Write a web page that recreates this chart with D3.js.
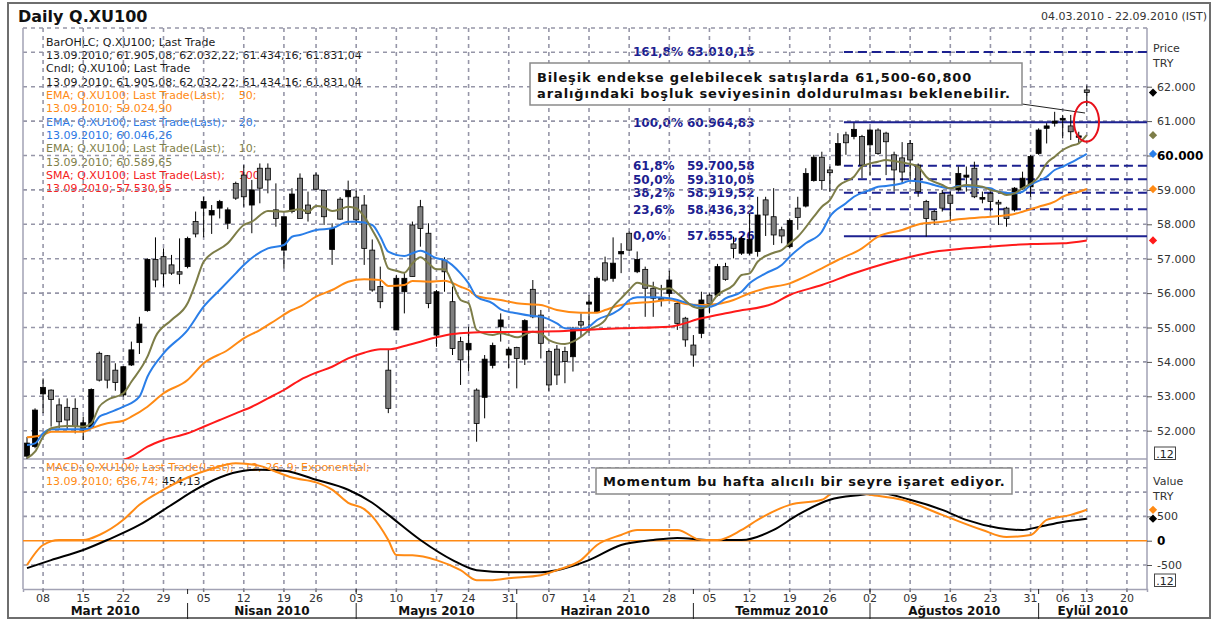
<!DOCTYPE html>
<html>
<head>
<meta charset="utf-8">
<script src="https://cdn.jsdelivr.net/npm/d3@7"></script>
<style>
  body { margin: 0; background: #fff; }
  text { font-family: "DejaVu Sans", Verdana, sans-serif; white-space: pre; }
</style>
</head>
<body>
<svg id="chart" width="1213" height="621"></svg>
<script>
// trading sessions, month -> days (holidays Apr 23, May 19, Aug 30, Sep 9-10 are skipped)
const sessionDays = {
  '2010-03': [4,5,8,9,10,11,12,15,16,17,18,19,22,23,24,25,26,29,30,31],
  '2010-04': [1,2,5,6,7,8,9,12,13,14,15,16,19,20,21,22,26,27,28,29,30],
  '2010-05': [3,4,5,6,7,10,11,12,13,14,17,18,20,21,24,25,26,27,28,31],
  '2010-06': [1,2,3,4,7,8,9,10,11,14,15,16,17,18,21,22,23,24,25,28,29,30],
  '2010-07': [1,2,5,6,7,8,9,12,13,14,15,16,19,20,21,22,23,26,27,28,29,30],
  '2010-08': [2,3,4,5,6,9,10,11,12,13,16,17,18,19,20,23,24,25,26,27,31],
  '2010-09': [1,2,3,6,7,8,13,14,15,16,17,20,21,22]
}

const weekTicks = ['2010-03-08','2010-03-15','2010-03-22','2010-03-29','2010-04-05','2010-04-12','2010-04-19','2010-04-26',
  '2010-05-03','2010-05-10','2010-05-17','2010-05-24','2010-05-31','2010-06-07','2010-06-14','2010-06-21','2010-06-28',
  '2010-07-05','2010-07-12','2010-07-19','2010-07-26','2010-08-02','2010-08-09','2010-08-16','2010-08-23','2010-08-31',
  '2010-09-06','2010-09-13','2010-09-20']

const months = [
  { name: 'Mart 2010', first: '2010-03-04' },
  { name: 'Nisan 2010', first: '2010-04-01' },
  { name: 'Mayıs 2010', first: '2010-05-03' },
  { name: 'Haziran 2010', first: '2010-06-01' },
  { name: 'Temmuz 2010', first: '2010-07-01' },
  { name: 'Ağustos 2010', first: '2010-08-02' },
  { name: 'Eylül 2010', first: '2010-09-01' }
]

// daily [open, high, low, close], one per session from 04.03.2010
const candles = [
  [51260,51820,51180,51640],[51540,52650,51490,52600],[53070,53520,52510,53260],[53180,53200,52120,52910],
  [52750,52940,52070,52260],[52680,52940,52020,52310],[52650,52940,51920,52120],[52020,52410,51730,52230],
  [52100,53230,52070,53200],[54250,54300,53430,53470],[54180,54200,53230,53470],[53760,53960,53160,53400],
  [53040,53880,52990,53860],[53910,54590,53880,54350],[54560,55310,54230,55100],[55490,57010,55460,56980],
  [56980,57620,56170,56380],[57060,57300,56190,56560],[56820,57110,56530,56580],[56620,57590,56260,56550],
  [56770,57640,56720,57590],[58080,58370,57620,57720],[58470,58800,57620,58660],[58270,58560,57720,58400],
  [58470,58710,58170,58660],[58030,58490,57860,58420],[59190,59240,58710,58760],[59430,59720,58510,58800],
  [58560,59290,57740,59000],[59630,59770,58610,59050],[59630,59770,58900,59290],[58420,59190,57930,58170],
  [57250,58220,56720,58220],[58370,59050,58320,58880],[59340,59480,58170,58170],[58560,58950,58080,58320],
  [59430,59500,59000,59020],[58980,59020,57980,58220],[57270,58030,56820,57880],[58730,58790,58130,58150],
  [58800,59270,57980,58980],[58790,58980,57980,58130],[58560,58850,56820,57300],[57250,57560,56040,56090],
  [56190,56770,55560,55750],[53760,54350,52510,52650],[54930,56530,54930,56430],[56040,56580,55410,56430],
  [57980,58080,56480,56480],[58510,58710,57350,57880],[57740,58030,55560,55700],[54780,56090,54440,56040],
  [56960,57040,56040,56620],[55750,56190,54200,54390],[54590,54730,53330,54060],[54350,55020,53720,54540],
  [53180,53230,51680,52210],[52970,54200,52360,54080],[53900,54560,53810,54480],[55020,55410,54590,55220],
  [54200,54440,53810,54370],[54420,54440,53230,54100],[54080,55240,53910,55200],[56110,56380,55270,55310],
  [55360,55510,54100,54540],[54300,54350,53160,53330],[54370,54490,53330,53620],[54300,54440,53380,54010],
  [54150,55020,53720,54980],[55170,55410,54730,55070],[55680,55940,54850,55740],[55460,56480,55460,56430],
  [56880,57060,56330,56380],[56430,57620,56330,56870],[57140,57450,56580,57210],[57740,57790,57210,57250],
  [56620,57210,56580,56980],[56690,56770,55310,56140],[56140,56330,55310,55850],[55850,56240,55610,55800],
  [55990,56650,55800,56380],[55700,55750,54930,55120],[55270,55310,54440,54640],[54490,54780,53860,54200],
  [54830,56040,54690,55800],[55940,55990,55410,55700],[55940,56850,55900,56770],[56770,56880,56360,56400],
  [57430,57640,57010,57300],[57160,57650,57110,57590],[57160,58320,57110,57560],[57210,58800,57060,58270],
  [58710,58800,57660,58270],[58220,59050,57400,57690],[57840,57930,57450,57660],[57350,58170,57300,58110],
  [58470,58800,57840,58200],[58530,59630,58490,59480],[59270,60020,59240,59950],[59950,60110,59000,59270],
  [59580,59680,58950,59500],[59720,60650,59700,60350],[60600,60690,60020,60370],[60550,60950,60470,60760],
  [60550,60600,59340,59720],[60310,60790,59430,60740],[60740,60790,60020,60060],[60650,60690,59430,60400],
  [60020,60110,58950,59580],[59930,60390,59200,59520],[60350,60450,59290,59870],[59720,59770,58800,58950],
  [58660,58710,57640,58170],[58370,58420,57980,58130],[58900,59000,58370,58470],[58850,58950,58080,58610],
  [59000,59680,58950,59480],[59370,59680,58950,59430],[59630,59820,58760,58800],[58730,58950,58610,58780],
  [58900,58950,58370,58660],[58640,58710,57980,58590],[58470,58510,57930,58170],[58420,59080,58370,59050],
  [59050,59530,59000,59340],[59090,60020,58800,59970],[60060,60790,60020,60740],[60790,60940,60350,60860],
  [60940,61270,60840,61000],[61030,61180,60500,61080],[60860,61180,60450,60690],[60530,60690,60350,60570],
  [61905.08,62032.22,61434.16,61831.04]
]

// moving averages: [session number, value]
const ema10 = [[0,51206],[1,51389],[2,51825],[3,52069],[5,52136],[7,52116],[8,52215],[9,52697],[10,52892],
  [12,53087],[13,53424],[15,54151],[16,54732],[18,55218],[20,55703],[21,56284],[22,56912],[25,57447],[27,57979],
  [28,58075],[30,58386],[32,58366],[34,58435],[35,58366],[36,58532],[37,58494],[38,58386],[39,58435],[40,58511],
  [41,58465],[42,58221],[43,57834],[44,57398],[45,56720],[46,56651],[47,56593],[48,56866],[49,57040],[50,56866],
  [51,56691],[52,56691],[53,56284],[54,55799],[55,55703],[56,54927],[58,54782],[59,54831],[60,54782],[61,54715],
  [63,54877],[64,54831],[65,54636],[67,54520],[68,54587],[69,54732],[70,54927],[72,55218],[73,55604],[74,55848],
  [75,56090],[76,56302],[77,56235],[78,56186],[79,56110],[80,56139],[81,55994],[83,55604],[84,55558],[85,55654],
  [86,55944],[88,56235],[89,56526],[90,56575],[91,56912],[93,57174],[94,57252],[95,57447],[96,57639],[98,58221],
  [99,58511],[100,58706],[101,59093],[103,59383],[104,59674],[106,59819],[107,59869],[108,59840],[110,59752],
  [111,59674],[112,59383],[114,59142],[115,59046],[116,59093],[117,59142],[119,59093],[120,58997],[121,58947],
  [122,58851],[123,58901],[124,59046],[126,59383],[127,59773],[128,59965],[129,60160],[130,60276],[131,60354],
  [132,60589.65]]

const ema20 = [[0,51583],[1,51633],[2,51924],[3,52040],[5,52040],[7,52040],[8,52098],[9,52406],[10,52505],
  [12,52697],[14,52988],[15,53569],[17,54249],[20,54927],[22,55604],[24,56090],[26,56575],[27,56817],[30,57302],
  [32,57398],[33,57639],[34,57689],[36,57834],[38,57883],[40,58075],[41,58075],[43,57979],[44,57639],[45,57203],
  [47,57078],[48,57157],[49,57232],[51,57011],[52,56962],[54,56575],[55,56284],[56,55895],[58,55703],[59,55529],
  [61,55412],[63,55334],[64,55314],[66,55122],[67,54977],[69,54956],[70,55023],[71,55218],[73,55412],[74,55558],
  [75,55799],[76,55878],[78,55878],[80,55848],[81,55799],[83,55654],[85,55604],[86,55683],[87,55848],[89,56040],
  [90,56284],[92,56575],[94,56817],[95,57058],[97,57447],[99,57785],[100,58221],[102,58610],[103,58802],
  [105,58997],[106,59093],[107,59113],[109,59191],[110,59267],[112,59209],[113,59142],[115,59046],[116,59113],
  [118,59093],[120,59046],[121,58947],[123,58901],[124,58947],[125,59142],[127,59383],[128,59578],[129,59674],
  [130,59790],[131,59918],[132,60046.26]]

const ema50 = [[0,51808],[2,51875],[3,51971],[5,51971],[7,51971],[8,52069],[10,52215],[12,52290],[13,52406],
  [15,52697],[17,53087],[20,53473],[22,53959],[25,54346],[27,54686],[29,54927],[31,55218],[33,55508],[34,55604],
  [36,55895],[38,56090],[40,56331],[42,56401],[44,56380],[45,56206],[47,56235],[48,56352],[50,56331],[52,56360],
  [54,56186],[55,56090],[56,55915],[59,55799],[61,55703],[64,55654],[66,55508],[69,55430],[71,55430],[72,55508],
  [74,55654],[78,55750],[80,55799],[82,55683],[84,55654],[86,55683],[88,55799],[90,55994],[92,56139],[95,56284],
  [96,56380],[99,56720],[101,56962],[104,57302],[106,57639],[109,57834],[111,57994],[114,58075],[116,58145],
  [119,58203],[121,58241],[123,58299],[124,58366],[126,58511],[128,58657],[129,58802],[131,58947],[132,59024.90]]

const sma100 = [[11,51060],[12,51148],[13,51244],[15,51534],[17,51729],[20,51924],[22,52116],[24,52311],[26,52505],
  [28,52697],[30,52941],[32,53183],[34,53473],[36,53685],[38,53860],[40,54104],[42,54267],[44,54366],[45,54366],
  [47,54462],[49,54587],[51,54715],[53,54811],[55,54849],[59,54869],[63,54877],[67,54898],[71,54947],[74,54976],
  [80,55023],[84,55267],[88,55459],[93,55703],[95,55944],[99,56235],[103,56575],[107,56866],[111,57107],
  [113,57203],[117,57302],[121,57369],[125,57427],[129,57447],[131,57494],[132,57530.95]]

// MACD 12/26/9
const macdLine = [[0,-502],[2,-89],[4,14],[7,14],[9,118],[12,430],[14,738],[17,1050],[20,1300],[23,1480],[26,1596],
  [29,1540],[31,1420],[33,1300],[36,1200],[38,1050],[40,780],[42,650],[43,500],[45,14],[46,-295],[48,-300],
  [51,-400],[54,-606],[56,-812],[58,-812],[60,-771],[64,-709],[66,-606],[69,-399],[71,-89],[74,118],[76,221],
  [79,221],[81,221],[84,14],[86,14],[89,221],[91,428],[95,738],[99,841],[101,1048],[105,944],[109,841],
  [114,531],[119,221],[122,76],[125,118],[127,428],[130,531],[132,636.74]]
const signalLine = [[0,-564],[3,-399],[7,-192],[10,14],[14,324],[18,738],[21,1050],[24,1300],[27,1440],[29,1461],
  [32,1440],[36,1254],[40,1048],[43,780],[45,531],[49,14],[53,-399],[56,-606],[60,-647],[64,-647],[66,-606],
  [70,-399],[74,-89],[78,14],[81,56],[85,14],[89,14],[93,221],[96,531],[100,841],[104,944],[106,985],[110,841],
  [114,634],[117,428],[121,262],[124,221],[126,283],[129,386],[132,454.13]]

// Fibonacci retracement levels
const fibPct = ['161,8%', '100,0%', '61,8%', '50,0%', '38,2%', '23,6%', '0,0%']
const fibValues = [63010.15, 60964.83, 59700.58, 59310.05, 58919.52, 58436.32, 57655.26]
const fibSolid = [false, true, false, false, false, false, true]
const fibStart = '2010-07-28'

const priceTicks = d3.range(52000, 62001, 1000)
const macdTicks = [-500, 0, 500]

const legendLines = [
  { text: 'BarOHLC; Q.XU100; Last Trade', color: '#1a1a1a' },
  { text: '13.09.2010; 61.905,08; 62.032,22; 61.434,16; 61.831,04', color: '#1a1a1a' },
  { text: 'Cndl; Q.XU100; Last Trade', color: '#1a1a1a' },
  { text: '13.09.2010; 61.905,08; 62.032,22; 61.434,16; 61.831,04', color: '#1a1a1a' },
  { text: 'EMA; Q.XU100; Last Trade(Last);    50;', color: '#ff8a14' },
  { text: '13.09.2010; 59.024,90', color: '#ff8a14' },
  { text: 'EMA; Q.XU100; Last Trade(Last);    20;', color: '#2a78e4' },
  { text: '13.09.2010; 60.046,26', color: '#2a78e4' },
  { text: 'EMA; Q.XU100; Last Trade(Last);    10;', color: '#7f7f4a' },
  { text: '13.09.2010; 60.589,65', color: '#7f7f4a' },
  { text: 'SMA; Q.XU100; Last Trade(Last);    100;', color: '#f52020' },
  { text: '13.09.2010; 57.530,95', color: '#f52020' }
]

const colors = { ema50: '#ff8a14', ema20: '#2a7ee8', ema10: '#7d7d48', sma100: '#ff1a1a', fib: '#1c2190', grid: '#9696a8' }

// ---------------------------------------------------------------
const dates = Object.entries(sessionDays)
  .flatMap(([m, days]) => days.map(d => `${m}-${String(d).padStart(2, '0')}`))

const plot = { left: 23, right: 1147, top: 28, mid: 459, bottom: 589 }

const svg = d3.select('#chart')
const tr = d3.formatLocale({ decimal: ',', thousands: '.', grouping: [3], currency: ['', ''], minus: '-' })
const fmtInt = tr.format(',.0f')
const fmt2 = tr.format(',.2f')

const x = d3.scaleBand().domain(dates).range([plot.left, plot.right])
const xc = d => x(d) + x.bandwidth() / 2
const xi = i => xc(dates[i])
const y = d3.scaleLinear().domain([52000, 62000]).range([430.7, 86.7])
const ym = d3.scaleLinear().domain([-500, 500]).range([565, 516.4])

const defs = svg.append('defs')
defs.append('clipPath').attr('id', 'clipP').append('rect')
  .attr('x', plot.left).attr('y', plot.top).attr('width', plot.right - plot.left).attr('height', plot.mid - plot.top)
defs.append('clipPath').attr('id', 'clipM').append('rect')
  .attr('x', plot.left).attr('y', plot.mid).attr('width', plot.right - plot.left).attr('height', plot.bottom - plot.mid)

// outer frame + header
svg.append('rect').attr('x', 8).attr('y', 3).attr('width', 1202).attr('height', 615)
  .attr('fill', '#fff').attr('stroke', '#6e6e6e').attr('stroke-width', 2)
svg.append('text').attr('x', 18).attr('y', 22).attr('font-size', 16).attr('font-weight', 'bold')
  .attr('fill', '#111').text('Daily Q.XU100')
svg.append('text').attr('x', 1207).attr('y', 20).attr('font-size', 11).attr('text-anchor', 'end')
  .attr('fill', '#333').text('04.03.2010 - 22.09.2010 (IST)')

// legends (drawn under the grid, like the original)
svg.append('g').selectAll('text').data(legendLines).join('text')
  .attr('x', 46).attr('y', (d, i) => 45.7 + i * 13.33)
  .attr('font-size', 11).attr('fill', d => d.color).text(d => d.text)

const macdLegend = svg.append('g').attr('font-size', 11)
macdLegend.append('text').attr('x', 46).attr('y', 471).attr('fill', '#ff8a14')
  .text('MACD; Q.XU100; Last Trade(Last);   12; 26; 9; Exponential;')
const ml2 = macdLegend.append('text').attr('x', 46).attr('y', 485)
ml2.append('tspan').attr('fill', '#ff8a14').text('13.09.2010; 636,74; ')
ml2.append('tspan').attr('fill', '#1a1a1a').text('454,13')

// fib labels
const fibLab = svg.append('g').attr('font-size', 12).attr('font-weight', 'bold').attr('fill', colors.fib)
fibLab.selectAll('.pct').data(fibPct).join('text').attr('class', 'pct')
  .attr('x', 633).attr('y', (d, i) => y(fibValues[i]) + 4.3).text(d => d)
fibLab.selectAll('.val').data(fibValues).join('text').attr('class', 'val')
  .attr('x', 687).attr('y', d => y(d) + 4.3).text(d => fmt2(d))

// grid
const grid = svg.append('g').attr('stroke', colors.grid).attr('stroke-width', 1.6)
  .attr('stroke-dasharray', '4,4').attr('fill', 'none')
grid.selectAll('.gh').data(d3.range(52000, 63001, 1000)).join('line').attr('class', 'gh')
  .attr('x1', plot.left).attr('x2', plot.right).attr('y1', d => y(d)).attr('y2', d => y(d))
grid.append('line').attr('x1', plot.left).attr('x2', plot.right).attr('y1', plot.top).attr('y2', plot.top)
grid.selectAll('.gm').data([500, 1000, 1500, -500]).join('line').attr('class', 'gm')
  .attr('x1', plot.left).attr('x2', plot.right).attr('y1', d => ym(d)).attr('y2', d => ym(d))
grid.selectAll('.gv').data(weekTicks).join('line').attr('class', 'gv')
  .attr('x1', d => xc(d)).attr('x2', d => xc(d)).attr('y1', plot.top).attr('y2', plot.bottom + 4)

// panel frame
const frame = svg.append('g').attr('stroke', '#a2a2b4').attr('stroke-width', 1.5)
frame.append('line').attr('x1', plot.left).attr('x2', plot.left).attr('y1', plot.top).attr('y2', plot.bottom)
frame.append('line').attr('x1', plot.right).attr('x2', plot.right).attr('y1', plot.top).attr('y2', plot.bottom)
frame.append('line').attr('x1', plot.left).attr('x2', plot.right).attr('y1', plot.mid).attr('y2', plot.mid)

// fib lines
const fibStartX = xc(fibStart) - 2
svg.append('g').selectAll('line').data(fibValues).join('line')
  .attr('x1', fibStartX).attr('x2', plot.right)
  .attr('y1', d => y(d)).attr('y2', d => y(d))
  .attr('stroke', colors.fib).attr('stroke-width', 2)
  .attr('stroke-dasharray', (d, i) => fibSolid[i] ? null : '9,5')

// candles
const price = svg.append('g').attr('clip-path', 'url(#clipP)')
const cg = price.append('g').selectAll('g').data(candles).join('g')
cg.append('line')
  .attr('x1', (d, i) => xi(i)).attr('x2', (d, i) => xi(i))
  .attr('y1', d => y(d[1])).attr('y2', d => y(d[2]))
  .attr('stroke', '#000').attr('stroke-width', 1)
cg.append('rect')
  .attr('x', (d, i) => xi(i) - 2.5).attr('width', 5)
  .attr('y', d => y(Math.max(d[0], d[3])))
  .attr('height', d => Math.max(1, Math.abs(y(d[0]) - y(d[3]))))
  .attr('fill', d => d[3] >= d[0] ? '#000' : '#808080')
  .attr('stroke', '#000').attr('stroke-width', 0.8)

// moving averages
const maLine = d3.line().x(d => xi(d[0])).y(d => y(d[1])).curve(d3.curveMonotoneX)
;[[ema50, colors.ema50], [ema20, colors.ema20], [ema10, colors.ema10], [sma100, colors.sma100]].forEach(([s, c]) => {
  price.append('path').datum(s).attr('d', maLine)
    .attr('fill', 'none').attr('stroke', c).attr('stroke-width', 2)
})

// MACD panel
const macd = svg.append('g').attr('clip-path', 'url(#clipM)')
macd.append('line').attr('x1', plot.left).attr('x2', plot.right).attr('y1', ym(0)).attr('y2', ym(0))
  .attr('stroke', '#ff8a14').attr('stroke-width', 1.5)
const mLine = d3.line().x(d => xi(d[0])).y(d => ym(d[1])).curve(d3.curveMonotoneX)
macd.append('path').datum(signalLine).attr('d', mLine).attr('fill', 'none').attr('stroke', '#000').attr('stroke-width', 2)
macd.append('path').datum(macdLine).attr('d', mLine).attr('fill', 'none').attr('stroke', '#ff8a14').attr('stroke-width', 2)

// annotation boxes
const note = svg.append('g')
note.append('line').attr('x1', 1022).attr('y1', 104).attr('x2', 1085).attr('y2', 113)
  .attr('stroke', '#222').attr('stroke-width', 1)
note.append('rect').attr('x', 530).attr('y', 63).attr('width', 492).attr('height', 42)
  .attr('fill', '#fff').attr('stroke', '#8a8a8a').attr('stroke-width', 1.5)
note.append('text').attr('x', 537).attr('y', 81.5).attr('font-size', 13).attr('font-weight', 'bold')
  .attr('letter-spacing', 0.87).attr('fill', '#111').text('Bileşik endekse gelebilecek satışlarda 61,500-60,800')
note.append('text').attr('x', 537).attr('y', 97.5).attr('font-size', 13).attr('font-weight', 'bold')
  .attr('letter-spacing', 0.9).attr('fill', '#111').text('aralığındaki boşluk seviyesinin doldurulması beklenebilir.')
note.append('ellipse').attr('cx', 1086.5).attr('cy', 121.7).attr('rx', 12.5).attr('ry', 20)
  .attr('fill', 'none').attr('stroke', '#e8101a').attr('stroke-width', 2)

note.append('rect').attr('x', 596).attr('y', 468).attr('width', 416).attr('height', 26)
  .attr('fill', '#fff').attr('stroke', '#8a8a8a').attr('stroke-width', 1.5)
note.append('text').attr('x', 603).attr('y', 486).attr('font-size', 13).attr('font-weight', 'bold')
  .attr('letter-spacing', 0.8).attr('fill', '#111').text('Momentum bu hafta alıcılı bir seyre işaret ediyor.')

// right price axis
const yAxis = svg.append('g').attr('transform', `translate(${plot.right},0)`)
  .call(d3.axisRight(y).tickValues(priceTicks).tickFormat(fmtInt).tickSize(5).tickPadding(5))
yAxis.select('.domain').remove()
yAxis.selectAll('.tick line').attr('stroke', '#555')
yAxis.selectAll('.tick text').attr('font-family', '"DejaVu Sans", Verdana, sans-serif')
  .attr('font-size', d => d === 60000 ? 12 : 11).attr('font-weight', d => d === 60000 ? 'bold' : null)
  .attr('fill', d => d === 60000 ? '#000' : '#333')

const mAxis = svg.append('g').attr('transform', `translate(${plot.right},0)`)
  .call(d3.axisRight(ym).tickValues(macdTicks).tickFormat(fmtInt).tickSize(5).tickPadding(5))
mAxis.select('.domain').remove()
mAxis.selectAll('.tick line').attr('stroke', '#555')
mAxis.selectAll('.tick text').attr('font-family', '"DejaVu Sans", Verdana, sans-serif')
  .attr('font-size', d => d === 0 ? 12 : 11).attr('font-weight', d => d === 0 ? 'bold' : null)
  .attr('fill', d => d === 0 ? '#000' : '#333')

const axisLab = svg.append('g').attr('font-size', 11).attr('fill', '#333')
axisLab.append('text').attr('x', 1153).attr('y', 52).text('Price')
axisLab.append('text').attr('x', 1153).attr('y', 67).text('TRY')
axisLab.append('text').attr('x', 1153).attr('y', 485).text('Value')
axisLab.append('text').attr('x', 1153).attr('y', 500).text('TRY')
;[447, 574].forEach(t => {
  axisLab.append('rect').attr('x', 1154.5).attr('y', t).attr('width', 21).attr('height', 12.5)
    .attr('fill', '#fff').attr('stroke', '#444').attr('stroke-width', 1)
  axisLab.append('text').attr('x', 1165).attr('y', t + 10.5).attr('text-anchor', 'middle').attr('fill', '#222').text('.12')
})

// last value markers
const last = candles.length - 1
const markers = [
  [y(candles[last][3]), '#000'], [y(ema10[ema10.length - 1][1]), colors.ema10],
  [y(ema20[ema20.length - 1][1]), colors.ema20], [y(ema50[ema50.length - 1][1]), colors.ema50],
  [y(sma100[sma100.length - 1][1]), colors.sma100],
  [ym(macdLine[macdLine.length - 1][1]), '#ff8a14'], [ym(signalLine[signalLine.length - 1][1]), '#000']
]
svg.append('g').selectAll('path').data(markers).join('path')
  .attr('d', d3.symbol(d3.symbolSquare, 34))
  .attr('transform', d => `translate(1153,${d[0]}) rotate(45)`)
  .attr('fill', d => d[1])

// bottom axis
const xAxis = svg.append('g').attr('transform', `translate(0,${plot.bottom})`)
  .call(d3.axisBottom(x).tickValues(weekTicks).tickFormat(d => d.slice(8)).tickSize(3).tickPadding(2))
xAxis.select('.domain').attr('stroke', '#a2a2b4').attr('stroke-width', 1.5)
xAxis.selectAll('.tick line').attr('stroke', '#777')
xAxis.selectAll('.tick text').attr('font-family', '"DejaVu Sans", Verdana, sans-serif')
  .attr('font-size', 11).attr('fill', '#333')

const sepX = months.slice(1).map(m => xc(m.first))
const bounds = [plot.left, ...sepX, plot.right]
const monthG = svg.append('g')
monthG.selectAll('line.sep').data(sepX).join('line').attr('class', 'sep')
  .attr('x1', d => d).attr('x2', d => d).attr('y1', 603).attr('y2', 619)
  .attr('stroke', '#222').attr('stroke-width', 1)
monthG.selectAll('line.tk').data(sepX).join('line').attr('class', 'tk')
  .attr('x1', d => d).attr('x2', d => d).attr('y1', plot.bottom).attr('y2', plot.bottom + 5)
  .attr('stroke', '#222').attr('stroke-width', 1)
monthG.selectAll('text').data(months).join('text')
  .attr('x', (d, i) => (bounds[i] + bounds[i + 1]) / 2).attr('y', 615)
  .attr('text-anchor', 'middle').attr('font-size', 12).attr('font-weight', 'bold').attr('fill', '#111')
  .text(d => d.name)
</script>
</body>
</html>
